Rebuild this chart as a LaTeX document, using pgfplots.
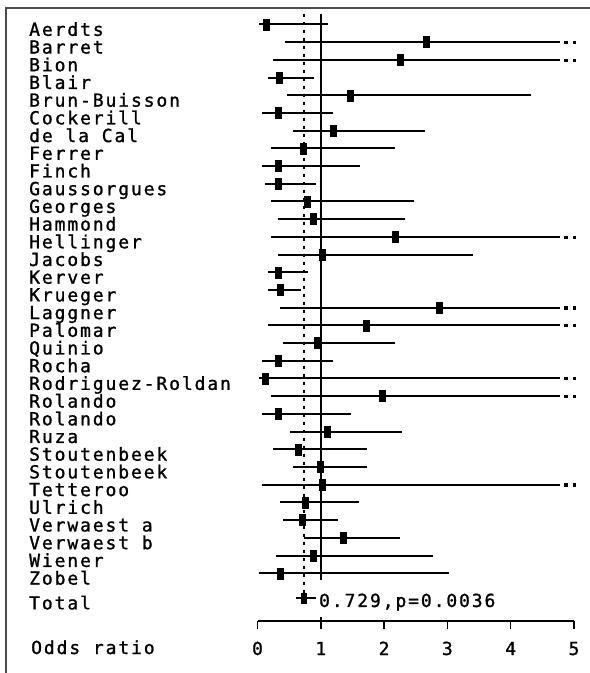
\documentclass[border=0pt]{standalone}
\usepackage{pgfplots}
\usepackage{pgfplotstable}
\pgfplotsset{compat=1.18}
\usepackage{fontspec}
\setmainfont{DejaVu Sans Mono}[LetterSpace=10.5, FakeBold=1.2]

\pgfplotstableread{
y est lo hi
32 0.14 0.03 1.11
31 2.67 0.43 4.78
30 2.25 0.25 4.78
29 0.35 0.16 0.89
28 1.46 0.46 4.32
27 0.32 0.07 1.20
26 1.20 0.56 2.64
25 0.72 0.21 2.18
24 0.32 0.07 1.62
23 0.32 0.12 0.92
22 0.79 0.21 2.47
21 0.88 0.32 2.33
20 2.17 0.21 4.78
19 1.02 0.32 3.40
18 0.32 0.16 0.79
17 0.36 0.17 0.68
16 2.87 0.36 4.78
15 1.72 0.17 4.78
14 0.95 0.40 2.18
13 0.32 0.07 1.20
12 0.12 0.02 4.78
11 1.97 0.21 4.78
10 0.32 0.07 1.48
9 1.10 0.52 2.29
8 0.64 0.25 1.73
7 0.99 0.56 1.73
6 1.02 0.07 4.78
5 0.75 0.36 1.60
4 0.71 0.40 1.27
3 1.35 0.74 2.25
2 0.88 0.29 2.78
1 0.36 0.03 3.03
}\studies

\pgfplotstableread{
y est lo hi
-0.4 0.729 0.61 0.93
}\total

\pgfplotstableread{
x y
4.87 31
5.00 31
4.87 30
5.00 30
4.87 20
5.00 20
4.87 16
5.00 16
4.87 15
5.00 15
4.87 12
5.00 12
4.87 11
5.00 11
4.87 6
5.00 6
}\dots

\begin{document}
\begin{tikzpicture}[font=\fontsize{18bp}{20bp}\selectfont]
\useasboundingbox (0,0) rectangle (590bp,673bp);
\draw[line width=1.5bp, black!70] (6bp,0bp) -- (6bp,665bp) -- (590bp,665bp);
\begin{axis}[
  at={(257.5bp,52bp)}, anchor=south west,
  scale only axis, width=316.5bp, height=607bp,
  xmin=0, xmax=5, ymin=-1.70, ymax=32.59,
  clip=false,
  axis x line*=bottom, axis y line*=left,
  y axis line style={draw=none},
  ytick style={draw=none},
  x axis line style={line width=1.5bp},
  xtick={0,1,2,3,4,5},
  xtick style={line width=1.5bp, black},
  tick align=outside, major tick length=8bp,
  /pgf/number format/assume math mode=true,
  xticklabel style={anchor=base, inner sep=0pt, yshift=-26bp},
  ytick={32,31,...,1,-0.4},
  yticklabels={Aerdts,Barret,Bion,Blair,Brun-Buisson,Cockerill,de la Cal,Ferrer,Finch,Gaussorgues,Georges,Hammond,Hellinger,Jacobs,Kerver,Krueger,Laggner,Palomar,Quinio,Rocha,Rodriguez-Roldan,Rolando,Rolando,Ruza,Stoutenbeek,Stoutenbeek,Tetteroo,Ulrich,Verwaest a,Verwaest b,Wiener,Zobel,Total},
  yticklabel style={anchor=base west, inner sep=0pt, xshift=-220.5bp, yshift=-11.4bp},
]
% reference lines
\addplot[black, line width=1.8bp] coordinates {(1,32.59) (1,0.62)};
\addplot[black, line width=1.8bp, dash pattern=on 3bp off 5bp] coordinates {(0.729,32.59) (0.729,-0.4)};
\addplot[black, line width=1.5bp] coordinates {(1,-1.70) (1,-1.48)};
% studies
\addplot[black, only marks, mark=square*, mark size=5.5bp, mark options={xscale=0.55},
  error bars/.cd, x dir=both, x explicit, error mark=none,
  error bar style={line width=2bp}]
  table[x=est, y=y, x error plus expr=\thisrow{hi}-\thisrow{est}, x error minus expr=\thisrow{est}-\thisrow{lo}] {\studies};
% truncated CIs
\addplot[black, only marks, mark=square*, mark size=1.1bp] table[x=x, y=y] {\dots};
% total
\addplot[black, only marks, mark=square*, mark size=5bp, mark options={xscale=0.55},
  error bars/.cd, x dir=both, x explicit, error mark=none,
  error bar style={line width=2bp}]
  table[x=est, y=y, x error plus expr=\thisrow{hi}-\thisrow{est}, x error minus expr=\thisrow{est}-\thisrow{lo}] {\total};
\node[anchor=base west, inner sep=0pt, yshift=-9bp] at (axis cs:0.97,-0.4) {0.729,p=0.0036};
\node[anchor=base west, inner sep=0pt, xshift=-226.5bp, yshift=-33bp] at (axis cs:0,-1.70) {Odds ratio};
\end{axis}
\end{tikzpicture}
\end{document}
